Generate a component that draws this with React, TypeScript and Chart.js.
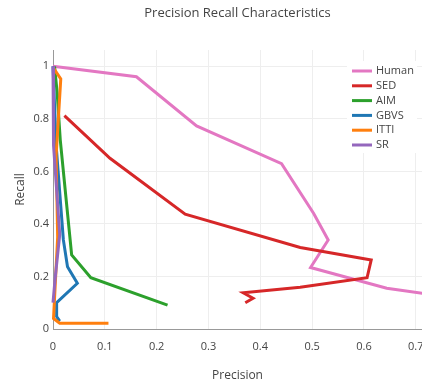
import React, { useEffect, useRef } from 'react';
import { Chart, registerables } from 'chart.js';

Chart.register(...registerables);

const chartTitle = 'Precision Recall Characteristics';
const xAxisTitle = 'Precision';
const yAxisTitle = 'Recall';

const seriesNames = ['Human', 'SED', 'AIM', 'GBVS', 'ITTI', 'SR'];
const seriesColors = ['#e377c2', '#d62728', '#2ca02c', '#1f77b4', '#ff7f0e', '#9467bd'];

const humanPrecision = [0, 0.161, 0.277, 0.441, 0.503, 0.531, 0.497, 0.644, 0.72];
const humanRecall = [1.0, 0.96, 0.773, 0.629, 0.44, 0.339, 0.234, 0.155, 0.134];

const sedPrecision = [0.022, 0.11, 0.255, 0.477, 0.614, 0.606, 0.477, 0.367, 0.386, 0.371];
const sedRecall = [0.812, 0.65, 0.437, 0.31, 0.263, 0.195, 0.159, 0.138, 0.117, 0.1];

const aimPrecision = [0.003, 0.008, 0.014, 0.025, 0.036, 0.073, 0.221];
const aimRecall = [1.0, 0.9, 0.72, 0.5, 0.282, 0.195, 0.091];

const gbvsPrecision = [0, 0.006, 0.02, 0.028, 0.047, 0.007, 0.007, 0.013];
const gbvsRecall = [1.0, 0.7, 0.339, 0.237, 0.174, 0.1, 0.047, 0.03];

const ittiPrecision = [0.002, 0.015, 0.006, 0.009, 0.001, 0.013, 0.107];
const ittiRecall = [0.99, 0.952, 0.66, 0.35, 0.04, 0.022, 0.022];

const srPrecision = [0, 0.001, 0.013, 0.004, 0.0];
const srRecall = [1.0, 0.7, 0.36, 0.19, 0.1];

const allPrecision = [humanPrecision, sedPrecision, aimPrecision, gbvsPrecision, ittiPrecision, srPrecision];
const allRecall = [humanRecall, sedRecall, aimRecall, gbvsRecall, ittiRecall, srRecall];

const FONT = '"Open Sans", verdana, arial, sans-serif';
const TEXT = '#444';

const fmt = (v: any) => String(parseFloat(Number(v).toFixed(2)));

const titlePlugin = {
  id: 'plotTitle',
  afterDraw(chart: any) {
    const { ctx, chartArea } = chart;
    ctx.save();
    ctx.font = `13px ${FONT}`;
    ctx.fillStyle = TEXT;
    ctx.textAlign = 'center';
    ctx.textBaseline = 'middle';
    ctx.fillText(chartTitle, (chartArea.left + chartArea.right) / 2, 13);
    ctx.restore();
  },
};

const legendPlugin = {
  id: 'plotLegend',
  afterDatasetsDraw(chart: any) {
    const { ctx } = chart;
    ctx.save();
    ctx.fillStyle = '#fff';
    ctx.fillRect(347, 61, 70, 92);
    ctx.font = `11px ${FONT}`;
    ctx.textBaseline = 'middle';
    ctx.textAlign = 'left';
    chart.data.datasets.forEach((ds: any, i: number) => {
      const y = 71 + i * 14.8;
      ctx.strokeStyle = ds.borderColor;
      ctx.lineWidth = 3;
      ctx.beginPath();
      ctx.moveTo(352, y);
      ctx.lineTo(372, y);
      ctx.stroke();
      ctx.fillStyle = TEXT;
      ctx.fillText(ds.label, 376, y);
    });
    ctx.restore();
  },
};

export default function App() {
  const ref = useRef<HTMLCanvasElement | null>(null);

  useEffect(() => {
    document.body.style.margin = '0';
    const canvas = ref.current;
    if (!canvas) return;
    const datasets = seriesNames.map((name, i) => ({
      label: name,
      data: allPrecision[i].map((x, j) => ({ x, y: allRecall[i][j] })),
      borderColor: seriesColors[i],
      backgroundColor: seriesColors[i],
      borderWidth: 3,
      pointRadius: 0,
      pointHoverRadius: 0,
      showLine: true,
      tension: 0,
      fill: false,
      clip: false,
      order: seriesNames.length - i,
    }));
    const chart = new Chart(canvas, {
      type: 'scatter',
      data: { datasets },
      options: {
        animation: false,
        responsive: false,
        devicePixelRatio: 1,
        layout: { padding: { top: 50, left: 0, right: 0, bottom: 0 } },
        plugins: {
          legend: { display: false },
          title: { display: false },
          tooltip: { enabled: false },
        },
        scales: {
          x: {
            type: 'linear',
            min: 0,
            max: 0.712,
            afterFit(s: any) {
              s.height = 55;
              s.paddingLeft = 0;
              s.paddingRight = 0;
            },
            ticks: {
              stepSize: 0.1,
              includeBounds: false,
              color: TEXT,
              font: { family: FONT, size: 11 },
              padding: 11,
              maxRotation: 0,
              callback: fmt,
            },
            grid: { color: '#eee', lineWidth: 1, drawTicks: false },
            border: { color: '#999', width: 1 },
            title: {
              display: true,
              text: xAxisTitle,
              color: TEXT,
              font: { family: FONT, size: 12 },
              padding: { top: 4, bottom: 1 },
            },
          },
          y: {
            type: 'linear',
            min: 0,
            max: 1.062,
            afterFit(s: any) {
              s.width = 53;
              s.paddingTop = 0;
              s.paddingBottom = 0;
            },
            ticks: {
              stepSize: 0.2,
              includeBounds: false,
              color: TEXT,
              font: { family: FONT, size: 11 },
              padding: 4,
              callback: fmt,
            },
            grid: { color: '#eee', lineWidth: 1, drawTicks: false },
            border: { color: '#999', width: 1 },
            title: {
              display: true,
              text: yAxisTitle,
              color: TEXT,
              font: { family: FONT, size: 12 },
              padding: { top: 13, bottom: 4 },
            },
          },
        },
      },
      plugins: [titlePlugin, legendPlugin],
    });
    return () => chart.destroy();
  }, []);

  return (
    <div style={{ width: 422, height: 384 }}>
      <canvas ref={ref} width={422} height={384} />
    </div>
  );
}
